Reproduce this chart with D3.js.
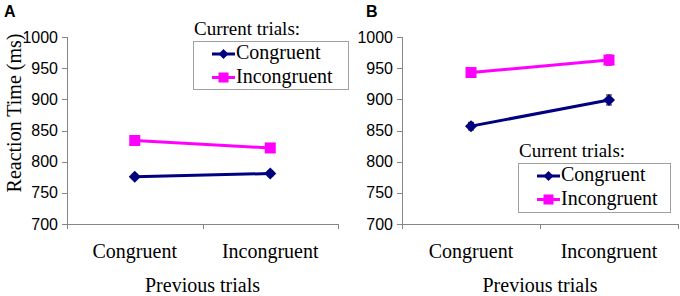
<!DOCTYPE html>
<meta charset="utf-8">
<style>
body { margin: 0; background: #fff; }
.axis path, .axis line { fill: none; stroke: #868686; shape-rendering: crispEdges; }
.axis text { font: 16px Arial, "Liberation Sans", sans-serif; fill: #000; }
.serif { font-family: "Times New Roman", "Liberation Serif", serif; font-size: 19px; fill: #000; }
.big { font-size: 20px; }
.panel { font: bold 16px Arial, "Liberation Sans", sans-serif; }
</style>
<body>
<script src="https://cdn.jsdelivr.net/npm/d3@7"></script>
<script>

var prevTrials = ["Congruent", "Incongruent"];
var seriesNames = ["Congruent", "Incongruent"];
var colors = ["#000080", "#ff00ff"];
var yTicks = [700, 750, 800, 850, 900, 950, 1000];

// panel A: mean RT, current congruent / incongruent
var congA = [776, 781];
var incongA = [834, 822];
var congAerr = [4, 4];
var incongAerr = [5, 5];

// panel B
var congB = [857, 899];
var incongB = [943, 963];
var congBerr = [6, 8];
var incongBerr = [6, 8];

var svg = d3.select("body").append("svg")
    .attr("width", 680)
    .attr("height", 296);

var y = d3.scaleLinear().domain([700, 1000]).range([224, 37]);

function panel(opt) {
  var x = d3.scaleBand().domain(prevTrials).range([opt.x0, opt.x1]);

  svg.append("g")
      .attr("class", "axis")
      .attr("transform", "translate(" + opt.x0 + ",0)")
      .call(d3.axisLeft(y).tickValues(yTicks).tickFormat(d3.format("d")).tickSize(5).tickPadding(4));

  var xa = svg.append("g")
      .attr("class", "axis")
      .attr("transform", "translate(0,224)")
      .call(d3.axisBottom(x).tickSize(0).tickFormat(""));
  // excel-style ticks between categories
  xa.selectAll(".sep")
      .data([opt.x0, (opt.x0 + opt.x1) / 2, opt.x1])
    .enter().append("line")
      .attr("x1", function(d) { return Math.round(d) + 0.5; })
      .attr("x2", function(d) { return Math.round(d) + 0.5; })
      .attr("y1", 0).attr("y2", 5);

  svg.selectAll(null)
      .data(prevTrials)
    .enter().append("text")
      .attr("class", "serif big")
      .attr("text-anchor", "middle")
      .attr("x", function(d) { return x(d) + x.bandwidth() / 2; })
      .attr("y", 258)
      .text(function(d) { return d; });

  svg.append("text")
      .attr("class", "serif big")
      .attr("text-anchor", "middle")
      .attr("x", (opt.x0 + opt.x1) / 2)
      .attr("y", 292)
      .text("Previous trials");

  svg.append("text")
      .attr("class", "panel")
      .attr("x", opt.labelX)
      .attr("y", 17)
      .text(opt.label);

  var line = d3.line()
      .x(function(d, i) { return x(prevTrials[i]) + x.bandwidth() / 2; })
      .y(function(d) { return y(d); });

  opt.series.forEach(function(s, k) {
    var g = svg.append("g");
    g.append("path")
        .datum(s.values)
        .attr("fill", "none")
        .attr("stroke", colors[k])
        .attr("stroke-width", 3)
        .attr("d", line);

    s.values.forEach(function(v, i) {
      var cx = x(prevTrials[i]) + x.bandwidth() / 2;
      g.append("line")
          .attr("x1", cx).attr("x2", cx)
          .attr("y1", y(v - s.err[i])).attr("y2", y(v + s.err[i]))
          .attr("stroke", "#333").attr("stroke-width", 1.2);
      [v - s.err[i], v + s.err[i]].forEach(function(e) {
        g.append("line")
            .attr("x1", cx - 3).attr("x2", cx + 3)
            .attr("y1", y(e)).attr("y2", y(e))
            .attr("stroke", "#333").attr("stroke-width", 1.2);
      });
      g.append("path")
          .attr("transform", "translate(" + cx + "," + y(v) + ")")
          .attr("d", k === 0 ? "M0,-6L6,0L0,6L-6,0Z" : "M-5.5,-5.5H5.5V5.5H-5.5Z")
          .attr("fill", colors[k]);
    });
  });

  // legend
  var L = opt.legend;
  svg.append("text")
      .attr("class", "serif")
      .attr("x", L.x + 1)
      .attr("y", L.y - 6)
      .text("Current trials:");
  svg.append("rect")
      .attr("x", L.x + 0.5).attr("y", L.y + 0.5)
      .attr("width", L.w).attr("height", L.h)
      .attr("fill", "#fff").attr("stroke", "#a0a0a0");
  seriesNames.forEach(function(n, k) {
    var ly = L.y + 13 + k * 23.5;
    svg.append("line")
        .attr("x1", L.x + 19).attr("x2", L.x + 42)
        .attr("y1", ly).attr("y2", ly)
        .attr("stroke", colors[k]).attr("stroke-width", 3);
    svg.append("path")
        .attr("transform", "translate(" + (L.x + 30.5) + "," + ly + ")")
        .attr("d", k === 0 ? "M0,-5L5,0L0,5L-5,0Z" : "M-5,-5H5V5H-5Z")
        .attr("fill", colors[k]);
    svg.append("text")
        .attr("class", "serif big")
        .attr("x", L.x + 43)
        .attr("y", ly + 5)
        .text(n);
  });
}

panel({
  x0: 67, x1: 338, label: "A", labelX: 4,
  series: [{values: congA, err: congAerr}, {values: incongA, err: incongAerr}],
  legend: {x: 193, y: 41, w: 155, h: 48}
});

panel({
  x0: 402, x1: 678, label: "B", labelX: 366,
  series: [{values: congB, err: congBerr}, {values: incongB, err: incongBerr}],
  legend: {x: 518, y: 163, w: 152, h: 49}
});

svg.append("text")
    .attr("class", "serif big")
    .attr("text-anchor", "middle")
    .attr("transform", "translate(21,113) rotate(-90)")
    .text("Reaction Time (ms)");

</script>
